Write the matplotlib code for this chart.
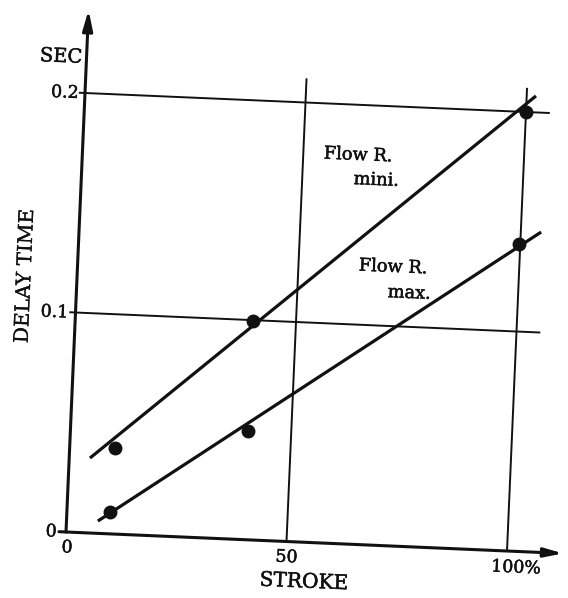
import matplotlib
matplotlib.use("Agg")
import matplotlib.pyplot as plt
import matplotlib.transforms as mtransforms
import matplotlib.patheffects as pe

# ---- data ----
stroke_mini = [10.2, 40.2, 100.0]
delay_mini = [0.0390, 0.0996, 0.2000]
stroke_max = [9.8, 40.1, 99.7]
delay_max = [0.0100, 0.0493, 0.1400]
fit_mini_x = [4.7, 102.1]
fit_mini_y = [0.0341, 0.2075]
fit_max_x = [7.1, 104.6]
fit_max_y = [0.0056, 0.1457]
x_ticks = [0, 50, 100]
x_tick_labels = ["0", "50", "100%"]
y_ticks = [0, 0.1, 0.2]
y_tick_labels = ["0", "0.1", "0.2"]
grid_x = [50, 100]
grid_y = [0.1, 0.2]

W, H = 568, 598
fig = plt.figure(figsize=(W / 100, H / 100), dpi=100)
ax = fig.add_axes([0, 0, 1, 1])
ax.set_xlim(0, W)
ax.set_ylim(H, 0)
ax.axis("off")

# skewed (scanned) data coordinate system -> pixel-like axes coords
ox, oy = 66, 532
ex = (4.41, 0.19)      # per stroke unit
ey = (95.0, -2195.0)   # per second
T = mtransforms.Affine2D(
    [[ex[0], ey[0], ox], [ex[1], ey[1], oy], [0, 0, 1]]) + ax.transData

k = "#111111"
serif = ["DejaVu Serif"]
rot = -2.4
ink = [pe.withStroke(linewidth=0.35, foreground=k)]
ink_light = [pe.withStroke(linewidth=0.15, foreground=k)]

# axes with arrows
ax.annotate("", xy=(0, 0.2378), xytext=(0, 0), xycoords=T, textcoords=T,
            arrowprops=dict(arrowstyle="-|>,head_length=1.2,head_width=0.3",
                            lw=2.2, color=k, shrinkA=0, shrinkB=0,
                            mutation_scale=10))
ax.annotate("", xy=(112.7, 0), xytext=(-1.6, 0), xycoords=T, textcoords=T,
            arrowprops=dict(arrowstyle="-|>,head_length=1.1,head_width=0.27",
                            lw=2.2, color=k, shrinkA=0, shrinkB=0,
                            mutation_scale=10))

# grid lines
for gy in grid_y:
    ax.plot([-1.4, 105.4], [gy, gy], color=k, lw=1.4, transform=T,
            solid_capstyle="butt")
for gx in grid_x:
    ax.plot([gx, gx], [0, 0.211], color=k, lw=1.4, transform=T,
            solid_capstyle="butt")

# fitted lines
ax.plot(fit_mini_x, fit_mini_y, color=k, lw=2.3, transform=T,
        solid_capstyle="butt")
ax.plot(fit_max_x, fit_max_y, color=k, lw=2.3, transform=T,
        solid_capstyle="butt")

# points
ax.plot(stroke_mini, delay_mini, "o", color=k, ms=9, transform=T)
ax.plot(stroke_max, delay_max, "o", color=k, ms=9, transform=T)

# tick labels
x_offsets = {"0": (1, 16), "50": (0, 16), "100%": (9, 17)}
for v, lab in zip(x_ticks, x_tick_labels):
    dx, dy = x_offsets[lab]
    tr = T + mtransforms.ScaledTranslation(dx / 100, -dy / 100,
                                           fig.dpi_scale_trans)
    ax.text(v, 0, lab, transform=tr, ha="center", va="center",
            fontsize=12.5, family=serif, rotation=rot, color=k,
            path_effects=ink)
y_offsets = {"0": (-9, 0), "0.1": (-7, 0), "0.2": (-6, 0)}
for v, lab in zip(y_ticks, y_tick_labels):
    dx, dy = y_offsets[lab]
    tr = T + mtransforms.ScaledTranslation(dx / 100, -dy / 100,
                                           fig.dpi_scale_trans)
    ax.text(0, v, lab, transform=tr, ha="right", va="center",
            fontsize=12.5, family=serif, rotation=rot, color=k,
            path_effects=ink)

# axis titles
ax.text(61, 57, "SEC", ha="center", va="center", fontsize=14,
        family=serif, rotation=rot, color=k, path_effects=ink)
ax.text(25, 276, "DELAY TIME", ha="center", va="center", fontsize=14.5,
        family=serif, rotation=90 + rot, color=k, path_effects=ink_light)
ax.text(304, 582, "STROKE", ha="center", va="center", fontsize=14.5,
        family=serif, rotation=rot, color=k, path_effects=ink)

# curve labels
lab_kw = dict(ha="center", va="center", fontsize=12.8, family=serif,
              rotation=rot, color=k, path_effects=ink)
ax.text(358, 155, "Flow R.", **lab_kw)
ax.text(376, 180, "mini.", **lab_kw)
ax.text(393, 267, "Flow R.", **lab_kw)
ax.text(409, 293, "max.", **lab_kw)

fig.savefig("out.png", dpi=100)
